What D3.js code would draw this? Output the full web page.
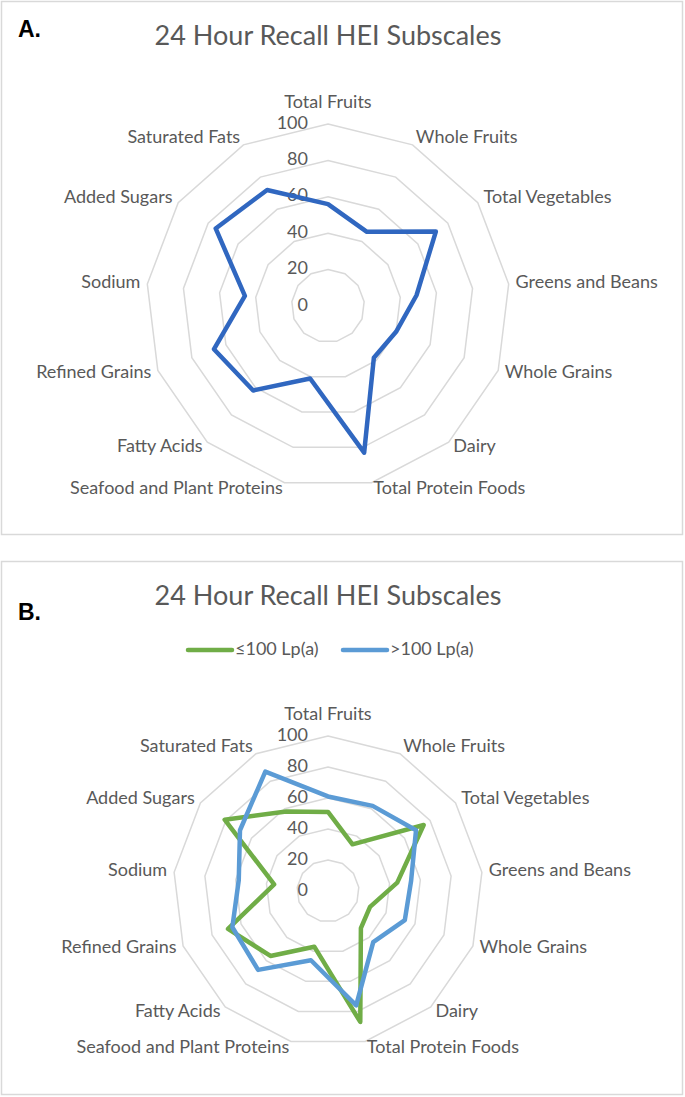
<!DOCTYPE html>
<html>
<head>
<meta charset="utf-8">
<script src="https://cdn.jsdelivr.net/npm/d3@7"></script>
<style>
  body { margin: 0; background: #fff; }
  svg text { font-family: Lato, "Open Sans", sans-serif; }
</style>
</head>
<body>
<svg id="chart" width="685" height="1097"></svg>
<script>
// categories of the HEI subscales, clockwise from the top
var categories = ["Total Fruits", "Whole Fruits", "Total Vegetables", "Greens and Beans",
  "Whole Grains", "Dairy", "Total Protein Foods", "Seafood and Plant Proteins",
  "Fatty Acids", "Refined Grains", "Sodium", "Added Sugars", "Saturated Fats"];

// panel A: whole cohort
var allValues = [56, 46, 72, 49, 40, 38, 83, 41, 62, 67, 46, 75, 72];

// panel B: split by Lp(a)
var lowLpaValues = [51, 34, 75, 45, 29, 32, 87, 37, 56, 69, 35, 81, 58];
var highLpaValues = [61, 62, 69, 54, 53, 44, 76, 46, 68, 66, 58, 69, 87];

var tickValues = [0, 20, 40, 60, 80, 100];
var chartTitle = "24 Hour Recall HEI Subscales";

var svg = d3.select("#chart");
var angleStep = 2 * Math.PI / categories.length;

// draws one boxed radar panel
function drawPanel(opt) {
  var g = svg.append("g");

  g.append("rect")
    .attr("x", 1.5).attr("y", opt.top + 0.5)
    .attr("width", 681).attr("height", 533)
    .attr("fill", "#fff")
    .attr("stroke", "#d9d9d9")
    .attr("stroke-width", 1.5);

  g.append("text")
    .attr("x", 18).attr("y", opt.letterY)
    .attr("dominant-baseline", "middle")
    .style("font-family", "'Liberation Sans', Arial, sans-serif")
    .style("font-weight", "bold")
    .style("font-size", "23px")
    .attr("fill", "#000")
    .text(opt.letter);

  g.append("text")
    .attr("x", 328).attr("y", opt.titleY)
    .attr("text-anchor", "middle")
    .attr("dominant-baseline", "middle")
    .style("font-size", "27px")
    .attr("fill", "#595959")
    .text(chartTitle);

  var r = d3.scaleLinear().domain([0, 100]).range([0, opt.R]);

  var ring = d3.lineRadial()
    .angle(function (d, i) { return i * angleStep; })
    .radius(function (d) { return r(d); })
    .curve(d3.curveLinearClosed);

  var plot = g.append("g")
    .attr("transform", "translate(" + opt.cx + "," + opt.cy + ")");

  // gridline polygons
  plot.selectAll(".grid")
    .data(tickValues.slice(1))
    .enter()
    .append("path")
    .attr("class", "grid")
    .attr("d", function (t) { return ring(categories.map(function () { return t; })); })
    .attr("fill", "none")
    .attr("stroke", "#d9d9d9")
    .attr("stroke-width", 1.5);

  // axis tick labels up the top spoke
  plot.selectAll(".tick")
    .data(tickValues)
    .enter()
    .append("text")
    .attr("class", "tick")
    .attr("x", -20)
    .attr("y", function (t) { return -r(t); })
    .attr("text-anchor", "end")
    .attr("dominant-baseline", "middle")
    .style("font-size", "18px")
    .attr("fill", "#595959")
    .text(function (t) { return t; });

  // series lines
  opt.series.forEach(function (s) {
    plot.append("path")
      .datum(s.values)
      .attr("d", ring)
      .attr("fill", "none")
      .attr("stroke", s.color)
      .attr("stroke-width", 4.5)
      .attr("stroke-linejoin", "round");
  });

  // category labels around the outside
  plot.selectAll(".cat")
    .data(categories)
    .enter()
    .append("text")
    .attr("class", "cat")
    .attr("x", function (d, i) { return Math.sin(i * angleStep) * (opt.R + 7); })
    .attr("y", function (d, i) {
      var y = -Math.cos(i * angleStep) * (opt.R + 7);
      return i == 0 ? y - 14 : y;
    })
    .attr("text-anchor", function (d, i) {
      var s = Math.sin(i * angleStep);
      return s > 0.05 ? "start" : (s < -0.05 ? "end" : "middle");
    })
    .attr("dominant-baseline", "middle")
    .style("font-size", "18px")
    .attr("fill", "#595959")
    .text(function (d) { return d; });

  // legend (panel B only)
  if (opt.legend) {
    var leg = g.selectAll(".legend")
      .data(opt.series)
      .enter()
      .append("g")
      .attr("class", "legend")
      .attr("transform", function (d, i) { return "translate(" + (188 + i * 155) + "," + opt.legendY + ")"; });
    leg.append("line")
      .attr("x1", 0).attr("x2", 44)
      .attr("stroke", function (d) { return d.color; })
      .attr("stroke-width", 4.5)
      .attr("stroke-linecap", "round");
    leg.append("text")
      .attr("x", 47)
      .attr("dominant-baseline", "middle")
      .style("font-size", "18px")
      .attr("fill", "#595959")
      .text(function (d) { return d.name; });
  }
}

drawPanel({
  top: 1, letter: "A.", letterY: 31, titleY: 38,
  cx: 328, cy: 306, R: 182,
  series: [{ name: "All", values: allValues, color: "#3067C0" }]
});

drawPanel({
  top: 561, letter: "B.", letterY: 614, titleY: 598,
  cx: 328, cy: 891, R: 155, legend: true, legendY: 650,
  series: [
    { name: "\u2264100 Lp(a)", values: lowLpaValues, color: "#70AD47" },
    { name: ">100 Lp(a)", values: highLpaValues, color: "#5B9BD5" }
  ]
});
</script>
</body>
</html>
